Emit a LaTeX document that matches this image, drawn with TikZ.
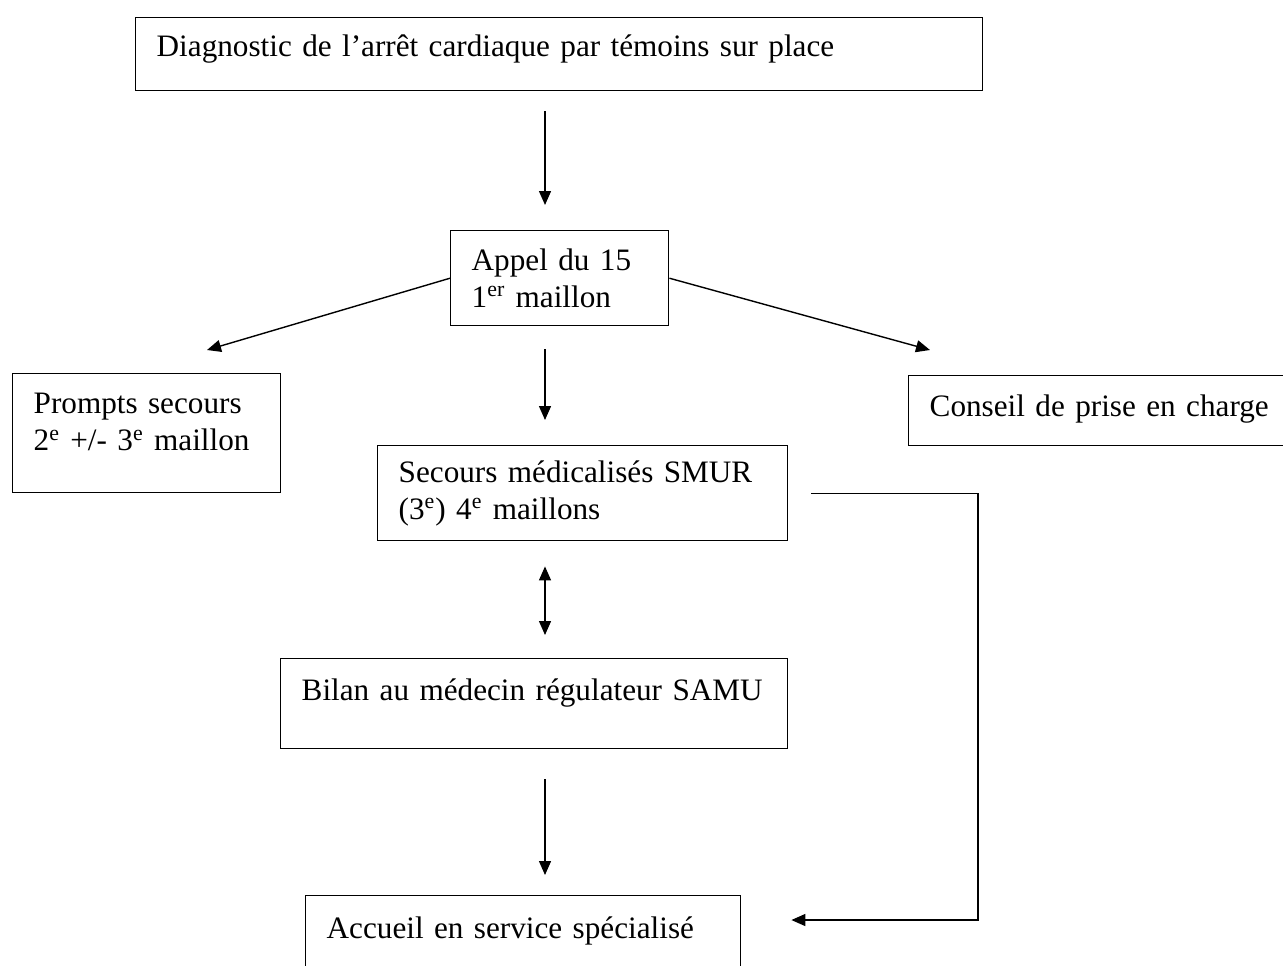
\documentclass[tikz,border=0pt]{standalone}
\usepackage{fontspec}
\setmainfont{Liberation Serif}
\usetikzlibrary{arrows.meta}
\begin{document}
\begin{tikzpicture}[x=0.5pt,y=-0.5pt,
    etape/.style={draw, line width=0.7pt, anchor=north west, align=left,
      inner xsep=10.5pt, inner ysep=0pt},
    pointe/.tip={Triangle[length=7pt,width=6pt]},
    fleche/.style={line width=0.7pt, -pointe},
    font=\fontsize{15.6pt}{18.5pt}\selectfont]
    \useasboundingbox (0,0) rectangle (1283,965);
    % les etapes
    \node [etape, text width=402.5pt, text height=19.5pt, text depth=17pt] (diag) at (135,17)
      {\mbox{Diagnostic de l'arrêt cardiaque par témoins sur place}};
    \node [etape, text width=88pt, minimum height=47.5pt] (appel) at (450,230)
      {Appel du 15\\1\textsuperscript{er} maillon};
    \node [etape, text width=113pt, text height=20pt, text depth=39.5pt] (prompts) at (12,373)
      {Prompts secours\\2\textsuperscript{e} +/- 3\textsuperscript{e} maillon};
    \node [etape, text width=179pt, text height=20.5pt, text depth=14.5pt] (conseil) at (908,375)
      {\mbox{Conseil de prise en charge}};
    \node [etape, text width=184pt, minimum height=47.5pt] (secours) at (377,445)
      {Secours médicalisés SMUR\\(3\textsuperscript{e}) 4\textsuperscript{e} maillons};
    \node [etape, text width=232.5pt, text height=21pt, text depth=24pt] (bilan) at (280,658)
      {\mbox{Bilan au médecin régulateur SAMU}};
    \node [etape, text width=196.5pt, text height=21.5pt, text depth=30pt] (accueil) at (305,895)
      {\mbox{Accueil en service spécialisé}};
    % les fleches
    \coordinate (axe) at (545,0);
    \coordinate (versprompts) at (207,350);
    \coordinate (versconseil) at (930,350);
    \coordinate (coude) at (978,920);
    \draw [fleche, shorten <=10pt, shorten >=12.5pt] (diag.south -| axe) -- (appel.north -| axe);
    \draw [fleche] (appel.west) -- (versprompts);
    \draw [fleche] (appel.east) -- (versconseil);
    \draw [fleche, shorten <=11.5pt, shorten >=12.5pt] (appel.south -| axe) -- (secours.north -| axe);
    \draw [fleche, pointe-pointe, shorten <=12.5pt, shorten >=11.5pt] (secours.south -| axe) -- (bilan.north -| axe);
    \draw [fleche, shorten <=15pt, shorten >=10pt] (bilan.south -| axe) -- (accueil.north -| axe);
    \draw [fleche, shorten <=11.5pt, shorten >=25pt] (secours.east) -| (coude) -- (accueil.east |- coude);
\end{tikzpicture}
\end{document}
